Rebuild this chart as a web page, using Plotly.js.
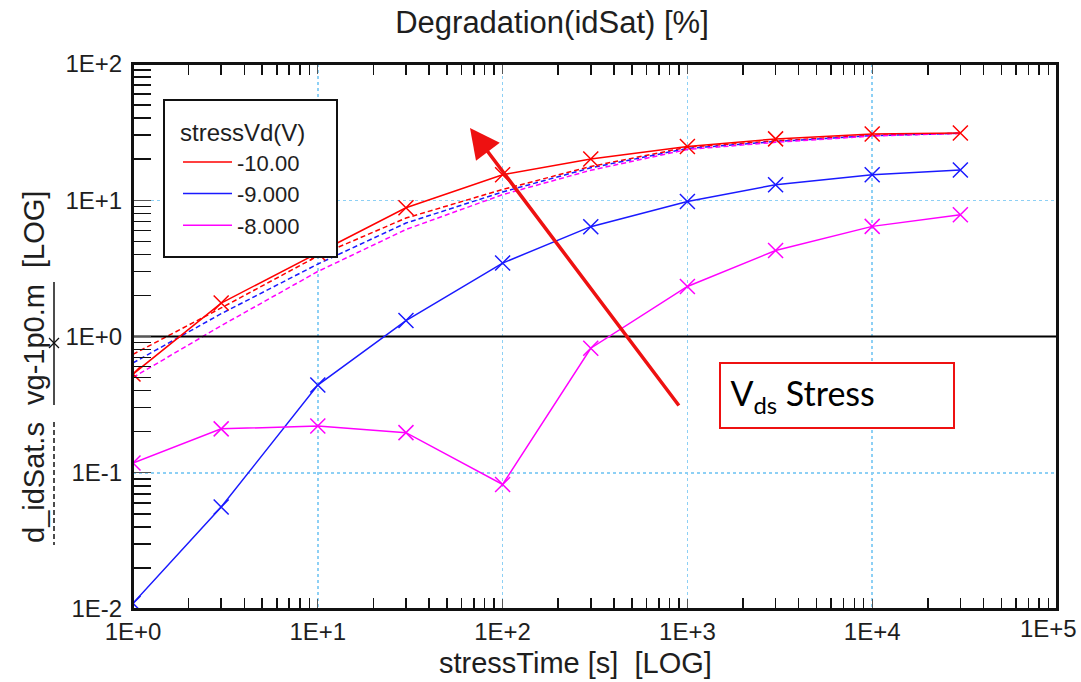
<!DOCTYPE html>
<html>
<head>
<meta charset="utf-8">
<script src="https://cdn.plot.ly/plotly-3.0.1.min.js"></script>
<style>html,body{margin:0;padding:0;background:#fff;overflow:hidden;}#chart{width:1081px;height:682px;}</style>
</head>
<body>
<div id="chart"></div>
<script>
// ---- data ----
const stressTime = [1, 3, 10, 30, 100, 300, 1000, 3000, 10000, 30000];
const seriesNames = ['-10.00', '-9.000', '-8.000'];
const seriesColors = ['#ff0000', '#1a1aff', '#ff00ff'];
// measured (solid with markers)
const meas_m10 = [0.53, 1.76, 4.1, 8.8, 15.4, 20.1, 24.8, 28.2, 30.6, 31.2];
const meas_m9  = [0.011, 0.056, 0.44, 1.31, 3.46, 6.4, 9.8, 13.0, 15.4, 16.7];
const meas_m8  = [0.118, 0.21, 0.22, 0.197, 0.082, 0.82, 2.33, 4.28, 6.43, 7.83];
// simulated (dashed)
const sim_m10 = [0.74, 1.62, 3.9, 7.4, 12.0, 17.7, 24.5, 27.3, 30.0, 31.0];
const sim_m9  = [0.64, 1.47, 3.4, 6.8, 11.5, 17.3, 24.0, 27.0, 29.8, 31.0];
const sim_m8  = [0.50, 1.20, 3.0, 6.1, 11.0, 16.6, 23.6, 26.6, 29.6, 31.0];
// reference line at 1E+0
const refLineX = [1, 100000];
const refLineY = [1, 1];
// ticks (last x label is drawn as an annotation so it stays inside the page)
const xTickVals = [1, 10, 100, 1000, 10000, 100000];
const xTickText = ['1E+0', '1E+1', '1E+2', '1E+3', '1E+4', ''];
const xLastTickText = '1E+5';
const yTickVals = [0.01, 0.1, 1, 10, 100];
const yTickText = ['1E-2', '1E-1', '1E+0', '1E+1', '1E+2'];

// ---- build ----
const measured = [meas_m10, meas_m9, meas_m8];
const simulated = [sim_m10, sim_m9, sim_m8];

function minorVals(lo, hi) {
  const out = [];
  for (let e = lo; e < hi; e++) {
    for (let m = 2; m <= 9; m++) out.push(m * Math.pow(10, e));
  }
  return out;
}

const FONT = 'Liberation Sans, Arial, sans-serif';
const TXT = '#1e1e1e';
const traces = [];

simulated.forEach((ys, i) => {
  traces.push({
    x: stressTime, y: ys, mode: 'lines', showlegend: false, hoverinfo: 'skip',
    line: {color: seriesColors[i], width: 1.5, dash: '5px,3px'}
  });
});
traces.push({
  x: refLineX, y: refLineY, mode: 'lines', showlegend: false, hoverinfo: 'skip',
  line: {color: '#000', width: 2}
});
measured.forEach((ys, i) => {
  traces.push({
    x: stressTime, y: ys, mode: 'lines', name: seriesNames[i],
    line: {color: seriesColors[i], width: 1.5}
  });
});
measured.forEach((ys, i) => {
  traces.push({
    x: stressTime, y: ys, mode: 'markers', showlegend: false,
    marker: {symbol: 'x-thin', size: 15, color: seriesColors[i], line: {width: 1.5, color: seriesColors[i]}}
  });
});

const L = 133, R = 1057, T = 64, B = 609;
const W = 1081, H = 682;
const px = v => (v - L) / (R - L);
const py = v => (B - v) / (B - T);
const EPS = 1e-5;

const gridColor = '#8dd0f5';

const layout = {
  width: W, height: H,
  margin: {l: L, r: W - R, t: T, b: H - B, pad: 0, autoexpand: false},
  paper_bgcolor: '#fff', plot_bgcolor: '#fff',
  font: {family: FONT, color: TXT},
  title: {
    text: 'Degradation(idSat) [%]',
    font: {family: FONT, size: 31, color: TXT},
    xref: 'container', x: 552 / W, xanchor: 'center',
    yref: 'container', y: 1 - 22 / H, yanchor: 'middle'
  },
  xaxis: {
    type: 'log', range: [-EPS, 5 + EPS],
    tickmode: 'array', tickvals: xTickVals, ticktext: xTickText,
    tickfont: {family: FONT, size: 24, color: TXT},
    ticks: 'inside', ticklen: 10, tickcolor: '#555', tickwidth: 1,
    showgrid: true, gridcolor: gridColor, griddash: 'dot', gridwidth: 1.5,
    showline: true, linecolor: '#111', linewidth: 2, mirror: 'ticks',
    zeroline: false,
    minor: {tickmode: 'array', tickvals: minorVals(0, 5), ticks: 'inside', ticklen: 11, tickcolor: '#111', tickwidth: 1.5, showgrid: false}
  },
  yaxis: {
    type: 'log', range: [-2 - EPS, 2 + EPS],
    tickmode: 'array', tickvals: yTickVals, ticktext: yTickText,
    tickfont: {family: FONT, size: 24, color: TXT},
    ticks: 'inside', ticklen: 18, tickcolor: '#555', tickwidth: 1,
    showgrid: true, gridcolor: gridColor, griddash: 'dot', gridwidth: 1.5,
    showline: true, linecolor: '#111', linewidth: 2, mirror: true,
    zeroline: false, ticklabelstandoff: 4,
    minor: {tickmode: 'array', tickvals: minorVals(-2, 2), ticks: 'inside', ticklen: 18, tickcolor: '#111', tickwidth: 1.5, showgrid: false}
  },
  showlegend: true,
  legend: {
    x: px(178), xanchor: 'left', y: py(110), yanchor: 'top',
    bgcolor: 'rgba(0,0,0,0)', borderwidth: 0,
    font: {family: FONT, size: 22, color: TXT},
    title: {text: 'stressVd(V)', font: {family: FONT, size: 24, color: TXT}},
    itemwidth: 49, tracegroupgap: 0
  },
  shapes: [
    // plot frame
    {type: 'rect', xref: 'paper', yref: 'paper', x0: 0, x1: 1, y0: 0, y1: 1,
     fillcolor: 'rgba(0,0,0,0)', line: {color: '#111', width: 2}, layer: 'above'},
    // legend box
    {type: 'rect', xref: 'paper', yref: 'paper', x0: px(164), x1: px(337), y0: py(257), y1: py(100),
     fillcolor: '#fff', line: {color: '#111', width: 2}, layer: 'above'},
    // y-title mini legend: solid with X marker
    {type: 'line', xref: 'paper', yref: 'paper', x0: px(54), x1: px(54), y0: py(282), y1: py(405), line: {color: '#111', width: 1.5}},
    {type: 'line', xref: 'paper', yref: 'paper', x0: px(49), x1: px(59), y0: py(338), y1: py(348), line: {color: '#111', width: 1.2}},
    {type: 'line', xref: 'paper', yref: 'paper', x0: px(49), x1: px(59), y0: py(348), y1: py(338), line: {color: '#111', width: 1.2}},
    // dashed
    {type: 'line', xref: 'paper', yref: 'paper', x0: px(54), x1: px(54), y0: py(422), y1: py(545), line: {color: '#111', width: 1.5, dash: '5px,3px'}}
  ],
  annotations: [
    {text: xLastTickText, xref: 'paper', yref: 'paper', x: px(1079), y: py(628), showarrow: false,
     xanchor: 'right', yanchor: 'middle', font: {family: FONT, size: 24, color: TXT}},
    {text: '[LOG]', xref: 'paper', yref: 'paper', x: px(34), y: py(230), textangle: -90, showarrow: false,
     xanchor: 'center', yanchor: 'middle', font: {family: FONT, size: 29, color: TXT}},
    {text: 'vg-1p0.m', xref: 'paper', yref: 'paper', x: px(34), y: py(345), textangle: -90, showarrow: false,
     xanchor: 'center', yanchor: 'middle', font: {family: FONT, size: 29, color: TXT}},
    {text: 'd_idSat.s', xref: 'paper', yref: 'paper', x: px(34), y: py(483), textangle: -90, showarrow: false,
     xanchor: 'center', yanchor: 'middle', font: {family: FONT, size: 29, color: TXT}},
    {text: 'stressTime [s]\u00a0\u00a0[LOG]', xref: 'paper', yref: 'paper', x: px(575), y: py(663), showarrow: false,
     xanchor: 'center', yanchor: 'middle', font: {family: FONT, size: 29, color: TXT}},
    {text: '\u00a0V<sub>ds</sub> Stress', xref: 'paper', yref: 'paper', x: px(837), y: py(395.5), showarrow: false,
     xanchor: 'center', yanchor: 'middle', width: 228, height: 59, align: 'left', valign: 'middle',
     bordercolor: '#ee1111', borderwidth: 2, borderpad: 2, bgcolor: '#fff',
     font: {family: 'Lato, sans-serif', size: 34, color: '#000'}},
    {text: '', xref: 'paper', yref: 'paper', x: px(470), y: py(128), showarrow: true,
     ax: 680 - 470, ay: 407 - 128, arrowhead: 2, arrowsize: 1.7, arrowwidth: 3.5, arrowcolor: '#ee1111', standoff: 0}
  ]
};

Plotly.newPlot('chart', traces, layout, {displayModeBar: false, staticPlot: true});
</script>
</body>
</html>
